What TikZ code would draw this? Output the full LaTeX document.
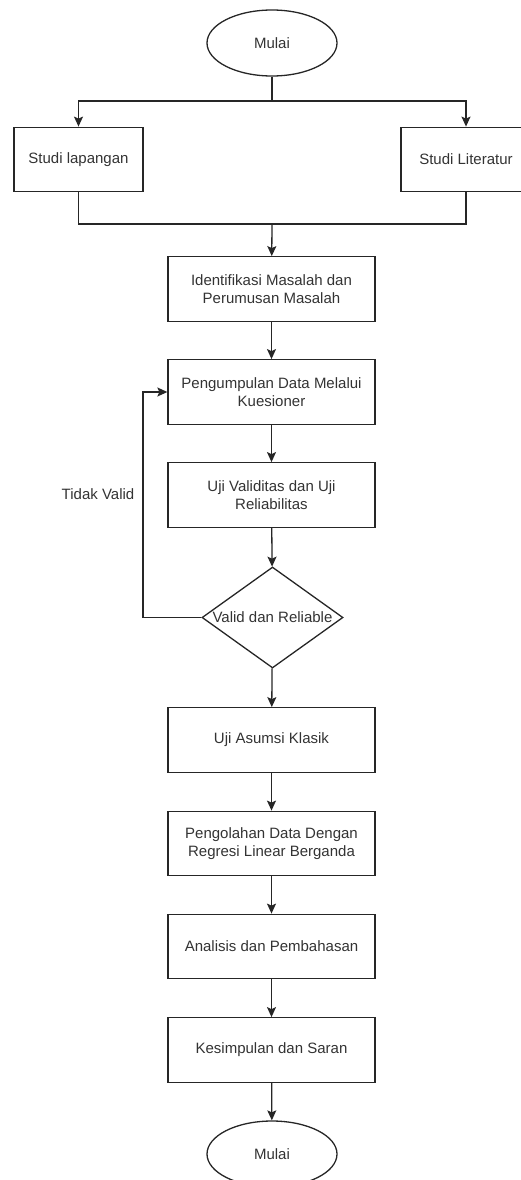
\documentclass[tikz,border=0pt]{standalone}
\usepackage{fontspec}
\setmainfont{Liberation Sans}
\usetikzlibrary{shapes.geometric, arrows.meta}

\tikzset{
    proses/.style = {draw, rectangle, minimum width = 207, minimum height = 64.5, align = center, inner sep = 0},
    terminal/.style = {draw, ellipse, minimum width = 130, minimum height = 66, inner sep = 0},
    keputusan/.style = {draw, diamond, aspect = 1.4, minimum width = 141, minimum height = 101, inner sep = 0},
    panah/.style = {-{Stealth[length = 10pt, width = 9pt, inset = 2pt]}}
}

\begin{document}
\begin{tikzpicture}[x = 1pt, y = -1pt, line width = 1.3pt, draw = black!85, text = black!80,
    font = \fontsize{15}{18.5}\selectfont]
    \useasboundingbox (0,0) rectangle (520,1180);

    \node[terminal] (mulai) at (272,43) {Mulai};
    \node[proses, minimum width = 129] (lapangan) at (78.5,159.5) {Studi lapangan};
    \node[proses, minimum width = 130] (literatur) at (466,159.5) {Studi Literatur};
    \node[proses] (identifikasi) at (271.5,289) {Identifikasi Masalah dan\\Perumusan Masalah};
    \node[proses] (kuesioner) at (271.5,392) {Pengumpulan Data Melalui\\Kuesioner};
    \node[proses] (validitas) at (271.5,495) {Uji Validitas dan Uji\\Reliabilitas};
    \node[keputusan] (valid) at (272.5,617.5) {Valid dan Reliable};
    \node[proses] (asumsi) at (271.5,740) {Uji Asumsi Klasik};
    \node[proses] (regresi) at (271.5,843.5) {Pengolahan Data Dengan\\Regresi Linear Berganda};
    \node[proses] (analisis) at (271.5,946.5) {Analisis dan Pembahasan};
    \node[proses] (kesimpulan) at (271.5,1050) {Kesimpulan dan Saran};
    \node[terminal] (selesai) at (272,1154) {Mulai};
    \node (tidak) at (98,494) {Tidak Valid};

    \coordinate (cabang) at (272,101);
    \coordinate (gabung) at (272,224);
    \coordinate (balik) at (143,617.5);

    % percabangan studi
    \draw (mulai) -- (cabang);
    \draw[panah] (cabang) -| (lapangan);
    \draw[panah] (cabang) -| (literatur);
    \draw (lapangan) |- (gabung);
    \draw (literatur) |- (gabung);
    \draw[panah] (gabung) -- (identifikasi);

    % alur utama
    \draw[panah] (identifikasi) -- (kuesioner);
    \draw[panah] (kuesioner) -- (validitas);
    \draw[panah] (validitas) -- (valid);
    \draw[panah] (valid) -- (asumsi);
    \draw[panah] (asumsi) -- (regresi);
    \draw[panah] (regresi) -- (analisis);
    \draw[panah] (analisis) -- (kesimpulan);
    \draw[panah] (kesimpulan) -- (selesai);

    % tidak valid
    \draw[panah] (valid) -- (balik) |- (kuesioner);
\end{tikzpicture}
\end{document}
